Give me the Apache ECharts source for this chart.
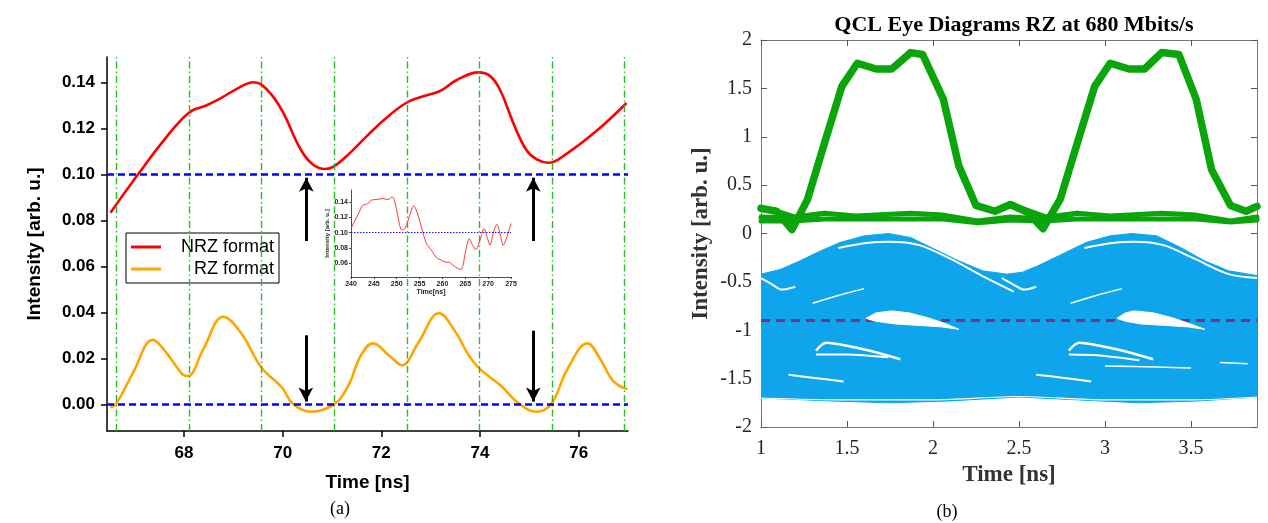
<!DOCTYPE html>
<html><head><meta charset="utf-8">
<script src="https://cdn.jsdelivr.net/npm/echarts@6/dist/echarts.min.js"></script>
<style>html,body{margin:0;padding:0;background:#fff}#c{width:1268px;height:523px}</style>
</head><body><div id="c"></div><script>
// ---------- (a) main panel ----------
const nrz = [[66.51,0.0833],[67.07,0.100],[67.6,0.115],[68.1,0.1268],[68.46,0.130],[68.74,0.133],[69.1,0.1375],[69.41,0.140],[69.57,0.139],[69.8,0.134],[70.02,0.1265],[70.36,0.111],[70.6,0.1045],[70.86,0.1023],[71.03,0.1033],[71.35,0.109],[71.7,0.1165],[72.1,0.1245],[72.5,0.131],[72.79,0.1335],[73.19,0.1362],[73.53,0.141],[73.97,0.1443],[74.2,0.1428],[74.4,0.137],[74.7,0.121],[74.94,0.1106],[75.15,0.1065],[75.39,0.105],[75.76,0.109],[76.37,0.119],[76.97,0.131]];
const rz = [[66.51,-0.0014],[66.63,0.0004],[66.97,0.0138],[67.37,0.028],[67.64,0.0225],[67.97,0.013],[68.08,0.0123],[68.39,0.0239],[68.8,0.0381],[69.15,0.0312],[69.57,0.016],[69.99,0.0072],[70.2,0.0004],[70.57,-0.0032],[71.04,0.0],[71.33,0.008],[71.58,0.021],[71.83,0.0265],[72.17,0.021],[72.42,0.017],[72.75,0.0268],[73.17,0.0396],[73.51,0.0312],[73.76,0.0217],[73.99,0.0155],[74.43,0.008],[74.77,0.0007],[75.14,-0.0032],[75.44,0.0],[75.77,0.0152],[76.18,0.0265],[76.44,0.0196],[76.7,0.0101],[76.99,0.0065]];
const bitLines = [66.63,68.10,69.57,71.04,72.52,73.98,75.46,76.93];
const thresholds = [0.10, 0.00];
const upArrows = [[70.48,0.071,0.0985],[75.08,0.071,0.0985]];
const downArrows = [[70.47,0.030,0.0012],[75.08,0.032,0.0012]];
const xTicksA = [68,70,72,74,76];
const yTicksA = [0.00,0.02,0.04,0.06,0.08,0.10,0.12,0.14];
// ---------- (a) inset ----------
const inset = [[240,0.1055],[240.7,0.114],[241.8,0.1273],[242.6,0.136],[243.7,0.138],[244.4,0.1426],[245.5,0.1435],[247,0.1448],[248.1,0.1435],[249,0.147],[249.5,0.1426],[250.3,0.1208],[251,0.1041],[251.5,0.104],[252.5,0.1164],[253.2,0.1295],[253.7,0.1352],[254.3,0.1295],[255.4,0.1076],[256.5,0.0858],[257.6,0.077],[258.7,0.0674],[259.8,0.064],[260.5,0.0617],[261.5,0.0613],[262.3,0.0574],[263.4,0.053],[264,0.0517],[264.5,0.0574],[265.1,0.077],[265.9,0.0923],[266.6,0.0836],[267.3,0.078],[268.1,0.088],[268.9,0.1041],[269.1,0.1055],[269.8,0.094],[270.4,0.0836],[271.1,0.099],[271.9,0.111],[272.6,0.099],[273.3,0.0836],[274.1,0.0945],[275,0.112]];
const insetTicksY = [0.06,0.08,0.10,0.12,0.14];
// ---------- (b) eye diagram ----------
const greenPulse = [[1,0.26],[1.09,0.23],[1.18,0.04],[1.27,0.35],[1.37,0.94],[1.47,1.52],[1.56,1.76],[1.67,1.70],[1.76,1.70],[1.87,1.87],[1.94,1.85],[2.06,1.39],[2.15,0.70],[2.25,0.29],[2.36,0.23],[2.45,0.30],[2.55,0.22],[2.64,0.05],[2.74,0.355],[2.84,0.94],[2.94,1.52],[3.03,1.76],[3.14,1.70],[3.23,1.70],[3.33,1.87],[3.43,1.85],[3.53,1.39],[3.62,0.66],[3.73,0.29],[3.82,0.23],[3.884,0.28]];
const greenZeroHi = [[1,0.17],[1.18,0.16],[1.37,0.21],[1.55,0.18],[1.87,0.21],[2.06,0.19],[2.26,0.13],[2.45,0.17],[2.64,0.15],[2.84,0.21],[3.03,0.18],[3.33,0.21],[3.53,0.19],[3.73,0.13],[3.884,0.17]];
const greenZeroLo = [[1,0.13],[1.18,0.13],[1.37,0.15],[1.55,0.15],[1.87,0.15],[2.06,0.15],[2.26,0.11],[2.45,0.14],[2.64,0.13],[2.84,0.15],[3.03,0.15],[3.33,0.15],[3.53,0.15],[3.73,0.12],[3.884,0.14]];
const greenFallA = [[1,0.26],[1.09,0.23],[1.2,0.17],[1.37,0.21]];
const greenFallB = [[2.25,0.29],[2.36,0.23],[2.45,0.30],[2.55,0.24],[2.66,0.17],[2.84,0.21]];
const blueUpper = [[1,-0.42],[1.115,-0.37],[1.23,-0.28],[1.345,-0.18],[1.46,-0.093],[1.6,-0.024],[1.74,0],[1.87,-0.041],[2.01,-0.162],[2.15,-0.283],[2.29,-0.386],[2.43,-0.42],[2.52,-0.40],[2.61,-0.334],[2.75,-0.214],[2.89,-0.093],[3.03,-0.024],[3.16,0],[3.30,-0.024],[3.44,-0.145],[3.58,-0.283],[3.72,-0.386],[3.884,-0.435]];
const blueLower = [[1,-1.70],[1.4,-1.73],[1.75,-1.75],[2.1,-1.73],[2.5,-1.69],[2.85,-1.72],[3.2,-1.75],[3.55,-1.73],[3.884,-1.69]];
const eyeLens1 = [[1.61,-0.876],[1.67,-0.82],[1.76,-0.80],[1.86,-0.82],[1.97,-0.87],[2.07,-0.93],[2.15,-0.99],[2.05,-0.965],[1.92,-0.95],[1.78,-0.935],[1.66,-0.905]];
const eyeLens2 = [[3.07,-0.876],[3.12,-0.82],[3.17,-0.80],[3.28,-0.82],[3.39,-0.87],[3.49,-0.93],[3.58,-0.99],[3.48,-0.965],[3.35,-0.95],[3.21,-0.935],[3.11,-0.905]];
const gapTop1 = [[1.45,-0.15],[1.6,-0.10],[1.75,-0.085],[1.92,-0.12],[2.1,-0.26],[2.3,-0.45],[2.47,-0.60]];
const gapTop2 = [[2.88,-0.15],[3.03,-0.10],[3.17,-0.085],[3.34,-0.12],[3.52,-0.26],[3.72,-0.42],[3.884,-0.46]];
const gapLeft = [[1,-0.46],[1.06,-0.52],[1.12,-0.58],[1.2,-0.55]];
const gapMid = [[2.4,-0.46],[2.47,-0.53],[2.53,-0.58],[2.6,-0.55]];
const gapRise1 = [[1.3,-0.72],[1.45,-0.64],[1.6,-0.57]];
const gapRise2 = [[2.8,-0.72],[2.95,-0.64],[3.1,-0.57]];
const streak1 = [[1.32,-1.21],[1.38,-1.13],[1.5,-1.16],[1.65,-1.22],[1.81,-1.30]];
const streak2 = [[1.32,-1.25],[1.5,-1.25],[1.74,-1.28]];
const streak3 = [[1.16,-1.46],[1.3,-1.49],[1.48,-1.53]];
const streak4 = [[2.79,-1.21],[2.85,-1.13],[2.97,-1.16],[3.12,-1.22],[3.28,-1.30]];
const streak5 = [[2.79,-1.25],[2.97,-1.26],[3.2,-1.31]];
const streak6 = [[2.6,-1.46],[2.75,-1.49],[2.92,-1.53]];
const streak7 = [[3.0,-1.37],[3.3,-1.38],[3.5,-1.39]];
const streak8 = [[3.67,-1.334],[3.83,-1.345]];
const bottomGap = [[1,-1.70],[1.5,-1.72],[2.0,-1.72],[2.5,-1.685],[3.0,-1.72],[3.5,-1.72],[3.884,-1.69]];
const decisionLevel = -0.9;
const xTicksB = [1,1.5,2,2.5,3,3.5];

const SANS = 'Liberation Sans', SERIF = 'Liberation Serif';
const chart = echarts.init(document.getElementById('c'), null, {renderer:'canvas'});

function polySeries(data, color, z) {
  return {type:'custom', xAxisIndex:4, yAxisIndex:4, data:data, z:z, silent:true, clip:true,
    renderItem:function(params, api){
      if (params.dataIndex !== 0) return null;
      const pts = data.map(p => api.coord(p));
      return {type:'polygon', shape:{points:pts}, style:{fill:color, stroke:color, lineWidth:1}};
    }};
}
function whiteLine(data, w) {
  return {type:'line', xAxisIndex:4, yAxisIndex:4, data:data, symbol:'none', smooth:0.3, silent:true, z:4,
    lineStyle:{color:'#ffffff', width:w||2}};
}
function greenLine(data, w) {
  return {type:'line', xAxisIndex:4, yAxisIndex:4, data:data, symbol:'none', silent:true, z:6,
    lineStyle:{color:'#0aa50a', width:w, join:'round', cap:'round'}};
}

const blackAxis = {onZero:false, lineStyle:{color:'#000', width:1.5}};
const thinAxis = {onZero:false, lineStyle:{color:'#222', width:0.8}};
const grayAxis = {onZero:false, lineStyle:{color:'#777', width:1}};
const option = {
  animation:false,
  title:{text:'QCL Eye Diagrams RZ at 680 Mbits/s', left:1009, top:9, textAlign:'center',
    textStyle:{fontFamily:SERIF, fontWeight:'bold', fontSize:22, color:'#000'}},
  legend:{data:['NRZ format','RZ format'], orient:'vertical', left:126, top:233,
    borderColor:'#000', borderWidth:1, padding:[5,5,5,5], itemGap:4, itemWidth:30, itemHeight:3, icon:'rect',
    formatter:'{a|{name}}',
    textStyle:{fontFamily:SANS, fontSize:18, color:'#000', rich:{a:{width:108, align:'right', fontFamily:SANS, fontSize:18}}}},
  grid:[
    {left:107, top:57, width:521, height:374},
    {left:351, top:190, width:160, height:87},
    {left:761, top:40, width:496, height:387}
  ],
  xAxis:[
    {gridIndex:0, type:'value', min:66.44, max:77, axisLine:blackAxis,
      axisTick:{customValues:xTicksA, length:6, lineStyle:{color:'#000', width:1.5}},
      axisLabel:{customValues:xTicksA, margin:14, fontFamily:SANS, fontWeight:'bold', fontSize:17, color:'#000'},
      splitLine:{show:false}, name:'Time [ns]', nameLocation:'middle', nameGap:42,
      nameTextStyle:{fontFamily:SANS, fontWeight:'bold', fontSize:19, color:'#000'}},
    {gridIndex:1, type:'value', min:240, max:275, interval:5, axisLine:thinAxis,
      axisTick:{length:2, lineStyle:{color:'#222', width:0.8}},
      axisLabel:{margin:4, fontFamily:SANS, fontWeight:'bold', fontSize:7, color:'#222'},
      splitLine:{show:false}, name:'Time[ns]', nameLocation:'middle', nameGap:12,
      nameTextStyle:{fontFamily:SANS, fontWeight:'bold', fontSize:7, color:'#222'}},
    {gridIndex:2, type:'value', min:1, max:3.884, position:'bottom', axisLine:grayAxis,
      axisTick:{inside:true, customValues:xTicksB, length:6, lineStyle:{color:'#555'}},
      axisLabel:{customValues:xTicksB, margin:12, fontFamily:SERIF, fontSize:20, color:'#262626'},
      splitLine:{show:false}, name:'Time [ns]', nameLocation:'middle', nameGap:34,
      nameTextStyle:{fontFamily:SERIF, fontWeight:'bold', fontSize:23, color:'#333'}},
    {gridIndex:2, type:'value', min:1, max:3.884, position:'top', axisLine:grayAxis,
      axisTick:{inside:true, customValues:xTicksB, length:6, lineStyle:{color:'#555'}},
      axisLabel:{show:false}, splitLine:{show:false}},
    {gridIndex:2, type:'value', min:1, max:3.884, show:false}
  ],
  yAxis:[
    {gridIndex:0, type:'value', min:-0.0116, max:0.151, axisLine:blackAxis,
      axisTick:{customValues:yTicksA, length:6, lineStyle:{color:'#000', width:1.5}},
      axisLabel:{customValues:yTicksA, margin:12, fontFamily:SANS, fontWeight:'bold', fontSize:17, color:'#000',
        formatter:v=>v.toFixed(2)},
      splitLine:{show:false}, name:'Intensity [arb. u.]', nameLocation:'middle', nameGap:63,
      nameTextStyle:{fontFamily:SANS, fontWeight:'bold', fontSize:19, color:'#000'}},
    {gridIndex:1, type:'value', min:0.042, max:0.156, axisLine:thinAxis,
      axisTick:{customValues:insetTicksY, length:2, lineStyle:{color:'#222', width:0.8}},
      axisLabel:{customValues:insetTicksY, margin:3, fontFamily:SANS, fontWeight:'bold', fontSize:7, color:'#222',
        formatter:v=>v.toFixed(2)},
      splitLine:{show:false}, name:'Intensity [arb. u.]', nameLocation:'middle', nameGap:19,
      nameTextStyle:{fontFamily:SANS, fontWeight:'bold', fontSize:6, color:'#222'}},
    {gridIndex:2, type:'value', min:-2, max:2, interval:0.5, position:'left', axisLine:grayAxis,
      axisTick:{inside:true, length:6, lineStyle:{color:'#555'}},
      axisLabel:{margin:9, fontFamily:SERIF, fontSize:20, color:'#262626'},
      splitLine:{show:false}, name:'Intensity [arb. u.]', nameLocation:'middle', nameGap:48,
      nameTextStyle:{fontFamily:SERIF, fontWeight:'bold', fontSize:23, color:'#333'}},
    {gridIndex:2, type:'value', min:-2, max:2, interval:0.5, position:'right', axisLine:grayAxis,
      axisTick:{inside:true, length:6, lineStyle:{color:'#555'}},
      axisLabel:{show:false}, splitLine:{show:false}},
    {gridIndex:2, type:'value', min:-2, max:2, show:false}
  ],
  series:[
    {type:'line', xAxisIndex:0, yAxisIndex:0, data:[], silent:true, z:1,
      markLine:{silent:true, symbol:'none', animation:false, label:{show:false},
        lineStyle:{color:'#2db82d', width:1.4, type:[7,3,1.5,3]},
        data:bitLines.map(v=>({xAxis:v}))}},
    {name:'NRZ format', type:'line', xAxisIndex:0, yAxisIndex:0, data:nrz, symbol:'none', smooth:0.4, z:3,
      color:'#ff0000', lineStyle:{color:'#ff0000', width:2.6}},
    {name:'RZ format', type:'line', xAxisIndex:0, yAxisIndex:0, data:rz, symbol:'none', smooth:0.4, z:3,
      color:'#ffa500', lineStyle:{color:'#ffa500', width:2.6}},
    {type:'line', xAxisIndex:0, yAxisIndex:0, data:[], silent:true, z:5,
      markLine:{silent:true, symbol:'none', animation:false, label:{show:false},
        lineStyle:{color:'#0000ff', width:2.6, type:[7,4]},
        data:thresholds.map(v=>({yAxis:v}))}},
    {type:'line', xAxisIndex:0, yAxisIndex:0, data:[], silent:true, z:6,
      markLine:{silent:true, symbol:['none','arrow'], symbolSize:[11,14], animation:false, label:{show:false},
        lineStyle:{color:'#000', width:3, type:'solid'},
        data:upArrows.concat(downArrows).map(a=>[{coord:[a[0],a[1]]},{coord:[a[0],a[2]]}])}},
    {type:'line', xAxisIndex:1, yAxisIndex:1, data:inset, symbol:'none', smooth:0.3, silent:true, z:3,
      lineStyle:{color:'#ff2020', width:0.9},
      markLine:{silent:true, symbol:'none', animation:false, label:{show:false},
        lineStyle:{color:'#0000ff', width:0.9, type:[1.5,1.5]}, data:[{yAxis:0.10}]}},
    polySeries(blueUpper.concat(blueLower.slice().reverse()), '#0ea5ec', 2),
    polySeries(eyeLens1, '#ffffff', 5),
    polySeries(eyeLens2, '#ffffff', 5),
    whiteLine(gapTop1, 2), whiteLine(gapTop2, 2), whiteLine(gapLeft, 2), whiteLine(gapMid, 2),
    whiteLine(gapRise1, 1.5), whiteLine(gapRise2, 1.5),
    whiteLine(streak1, 2.5), whiteLine(streak2, 2), whiteLine(streak3, 2), whiteLine(streak4, 2.5),
    whiteLine(streak5, 2), whiteLine(streak6, 2), whiteLine(streak7, 1.5), whiteLine(streak8, 1.5),
    whiteLine(bottomGap, 1.2),
    greenLine(greenZeroLo, 5), greenLine(greenZeroHi, 5), greenLine(greenFallA, 5), greenLine(greenFallB, 5),
    greenLine(greenPulse, 7.5),
    {type:'line', xAxisIndex:4, yAxisIndex:4, data:[], silent:true, z:7,
      markLine:{silent:true, symbol:'none', animation:false, label:{show:false},
        lineStyle:{color:'#7e2f8e', width:3, type:[9,6]}, data:[{yAxis:decisionLevel}]}}
  ],
  graphic:[
    {type:'text', x:340, y:509, style:{text:'(a)', textAlign:'center', textVerticalAlign:'middle', font:'18px "Liberation Serif"', fill:'#000'}},
    {type:'text', x:947, y:512, style:{text:'(b)', textAlign:'center', textVerticalAlign:'middle', font:'18px "Liberation Serif"', fill:'#000'}}
  ]
};
chart.setOption(option);
</script></body></html>
